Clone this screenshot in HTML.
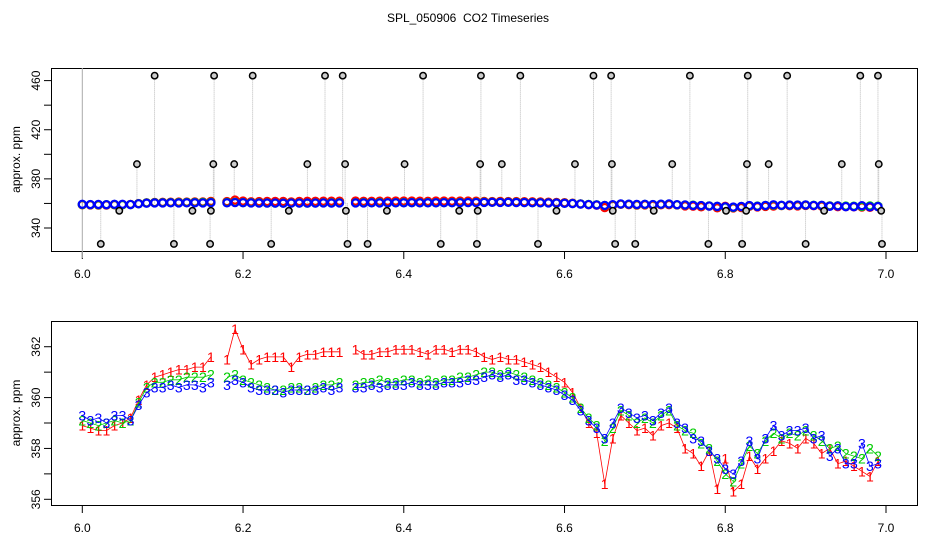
<!DOCTYPE html>
<html><head><meta charset="utf-8"><style>
html,body{margin:0;padding:0;background:#fff;}
svg{display:block;font-family:"Liberation Sans",sans-serif;}
</style></head><body>
<svg id="chart" width="936" height="540" viewBox="0 0 936 540" xmlns="http://www.w3.org/2000/svg">
<text x="468" y="22" font-size="12" text-anchor="middle" style="white-space:pre">SPL_050906&#160; CO2 Timeseries</text>
<g id="topPanel"></g>
<g id="botPanel"></g>
</svg>
<script>
const s1 = [358.9,358.8,358.7,358.7,358.9,359.0,359.2,359.9,360.5,360.8,
360.9,361.0,361.1,361.1,361.2,361.2,361.6,null,361.5,362.7,
361.9,361.3,361.5,361.6,361.6,361.6,361.2,361.6,361.7,361.7,
361.8,361.8,361.8,null,361.9,361.7,361.7,361.8,361.8,361.9,
361.9,361.9,361.8,361.7,361.9,361.9,361.8,361.9,361.9,361.8,
361.6,361.5,361.6,361.5,361.5,361.4,361.3,361.2,361.0,360.8,
360.6,360.2,359.6,359.0,358.6,356.6,358.4,359.3,359.0,358.7,
358.8,358.5,358.9,359.0,358.8,358.0,357.8,357.3,357.9,356.4,
357.6,356.3,356.6,357.7,357.2,357.6,357.9,358.3,358.2,358.0,
358.4,358.2,357.8,358.0,357.4,357.5,357.3,357.1,356.9,357.5];
const s2 = [359.1,359.0,358.9,359.0,359.1,359.0,359.1,359.8,360.4,360.6,
360.6,360.7,360.7,360.8,360.8,360.8,360.9,null,360.8,360.9,
360.7,360.6,360.5,360.4,360.3,360.3,360.4,360.4,360.3,360.4,
360.5,360.5,360.6,null,360.5,360.6,360.6,360.7,360.6,360.6,
360.7,360.7,360.6,360.7,360.6,360.7,360.7,360.8,360.8,360.9,
361.0,361.0,360.9,361.0,360.9,360.8,360.7,360.6,360.5,360.4,
360.2,360.0,359.6,359.2,358.9,358.3,358.8,359.5,359.3,359.0,
359.2,359.0,359.3,359.5,358.9,358.7,358.6,358.2,358.0,357.5,
357.0,356.7,357.4,358.1,357.8,358.3,358.6,358.4,358.6,358.5,
358.7,358.5,358.3,358.0,358.1,357.8,357.7,357.6,358.0,357.7];
const s3 = [359.3,359.1,359.2,359.0,359.3,359.3,359.1,359.7,360.2,360.4,
360.4,360.5,360.4,360.5,360.5,360.4,360.6,null,360.5,360.7,
360.6,360.4,360.3,360.3,360.3,360.2,360.3,360.3,360.3,360.3,
360.4,360.3,360.4,null,360.4,360.4,360.5,360.4,360.5,360.5,
360.5,360.6,360.5,360.5,360.5,360.6,360.6,360.6,360.7,360.7,
360.8,360.9,360.8,360.9,360.7,360.7,360.6,360.5,360.4,360.3,
360.1,359.9,359.5,359.1,358.8,358.4,359.0,359.6,359.4,359.2,
359.3,359.1,359.4,359.6,359.0,358.8,358.4,358.3,357.9,357.6,
357.2,357.0,357.5,358.3,357.6,358.4,358.9,358.5,358.7,358.7,
358.8,358.4,358.5,357.7,358.0,357.4,357.4,358.2,357.3,357.4];
const outX = [6.023,6.046,6.068,6.090,6.114,6.137,6.159,6.160,6.163,6.164,6.189,6.212,6.235,6.257,6.280,6.302,6.324,6.327,6.328,6.330,6.355,6.379,6.401,6.424,6.446,6.469,6.491,6.492,6.495,6.496,6.522,6.545,6.567,6.590,6.613,6.636,6.658,6.659,6.660,6.663,6.688,6.711,6.734,6.756,6.779,6.801,6.821,6.826,6.827,6.828,6.854,6.877,6.900,6.923,6.945,6.968,6.990,6.991,6.994,6.995];
const outY = [327,354,392,464,327,354,327,354,392,464,392,464,327,354,392,464,464,392,354,327,327,354,392,464,327,354,327,354,392,464,392,464,327,354,392,464,464,392,354,327,327,354,392,464,327,354,327,354,392,464,392,464,327,354,392,464,464,392,354,327];
const xTicks = [6.0,6.2,6.4,6.6,6.8,7.0];
const xTickLabels = ["6.0","6.2","6.4","6.6","6.8","7.0"];
const topYTicks = [340,360,380,400,420,440,460];
const topYLabels = [340,380,420,460];
const botYTicks = [356,357,358,359,360,361,362];
const botYLabels = [356,358,360,362];
const cols = ["#ff0000","#00cc00","#0000ff"];
const series = [s1,s2,s3];

const NS="http://www.w3.org/2000/svg";
function mk(parent,tag,attrs,txt){const e=document.createElementNS(NS,tag);for(const k in attrs)e.setAttribute(k,attrs[k]);if(txt!==undefined)e.textContent=txt;parent.appendChild(e);return e;}
const xs = s1.map((_,i)=>6+i*0.01);
const X = v=>82.3+(v-6)*803.7;
const Ytop = v=>228-(v-340)*1.2283;
const Ybot = v=>499.3-(v-356)*25.43;

function frame(g,y0,y1,Y,ticks,labels,name){
  const r=mk(g,'rect',{x:51.5,y:y0+0.5,width:866,height:y1-y0,fill:'none',stroke:'#000'});
  
  
  xTicks.forEach((t,i)=>{
    const l=mk(g,'line',{x1:X(t),x2:X(t),y1:y1+1,y2:y1+8,stroke:'#000'});
    
    
    const tx=mk(g,'text',{x:X(t),y:y1+27,'font-size':12,'text-anchor':'middle'},xTickLabels[i]);
    
    
  });
  ticks.forEach(t=>{
    const l=mk(g,'line',{x1:44,x2:51,y1:Y(t),y2:Y(t),stroke:'#000'});
    
    
  });
  labels.forEach(t=>{
    const tx=mk(g,'text',{x:0,y:0,'font-size':12,'text-anchor':'middle',transform:`translate(40,${Y(t)}) rotate(-90)`},String(t));
    
    
  });
  const yl=mk(g,'text',{x:0,y:0,'font-size':12,'text-anchor':'middle',transform:`translate(20,${(y0+y1)/2}) rotate(-90)`},'approx. ppm');
  
  
}

const topG=document.getElementById('topPanel');
frame(topG,68,251,Ytop,topYTicks,topYLabels,'top');
const vl=mk(topG,'line',{x1:X(6),x2:X(6),y1:68,y2:258,stroke:'#aaa'});


outX.forEach((x,i)=>{
  const l=mk(topG,'line',{x1:X(x),x2:X(x),y1:Ytop(360),y2:Ytop(outY[i]),stroke:'#aaa','stroke-width':0.8,'stroke-dasharray':'1,1'});
  
  
});
series.forEach((s,k)=>{
  s.forEach((v,i)=>{
    if(v===null)return;
    const c=mk(topG,'circle',{cx:X(xs[i]),cy:Ytop(v),r:3.6,fill:'none',stroke:cols[k],'stroke-width':2.2});
    
    
  });
});
outX.forEach((x,i)=>{
  const c=mk(topG,'circle',{cx:X(x),cy:Ytop(outY[i]),r:3.2,fill:'#ccc',stroke:'#000','stroke-width':1.5});
  
  
});

const botG=document.getElementById('botPanel');
frame(botG,321,505,Ybot,botYTicks,botYLabels,'bottom');
series.forEach((s,k)=>{
  let segs=[],cur=[];
  s.forEach((v,i)=>{ if(v===null){if(cur.length)segs.push(cur);cur=[];} else cur.push(X(xs[i]).toFixed(1)+','+Ybot(v).toFixed(1)); });
  if(cur.length)segs.push(cur);
  segs.forEach(sg=>{
    const p=mk(botG,'polyline',{points:sg.join(' '),fill:'none',stroke:cols[k],'stroke-width':0.8});
    
    
  });
  s.forEach((v,i)=>{
    if(v===null)return;
    const t=mk(botG,'text',{x:X(xs[i]),y:Ybot(v)+5,'font-size':14,'text-anchor':'middle',fill:cols[k]},String(k+1));
    
    
  });
});
</script>
</body></html>
